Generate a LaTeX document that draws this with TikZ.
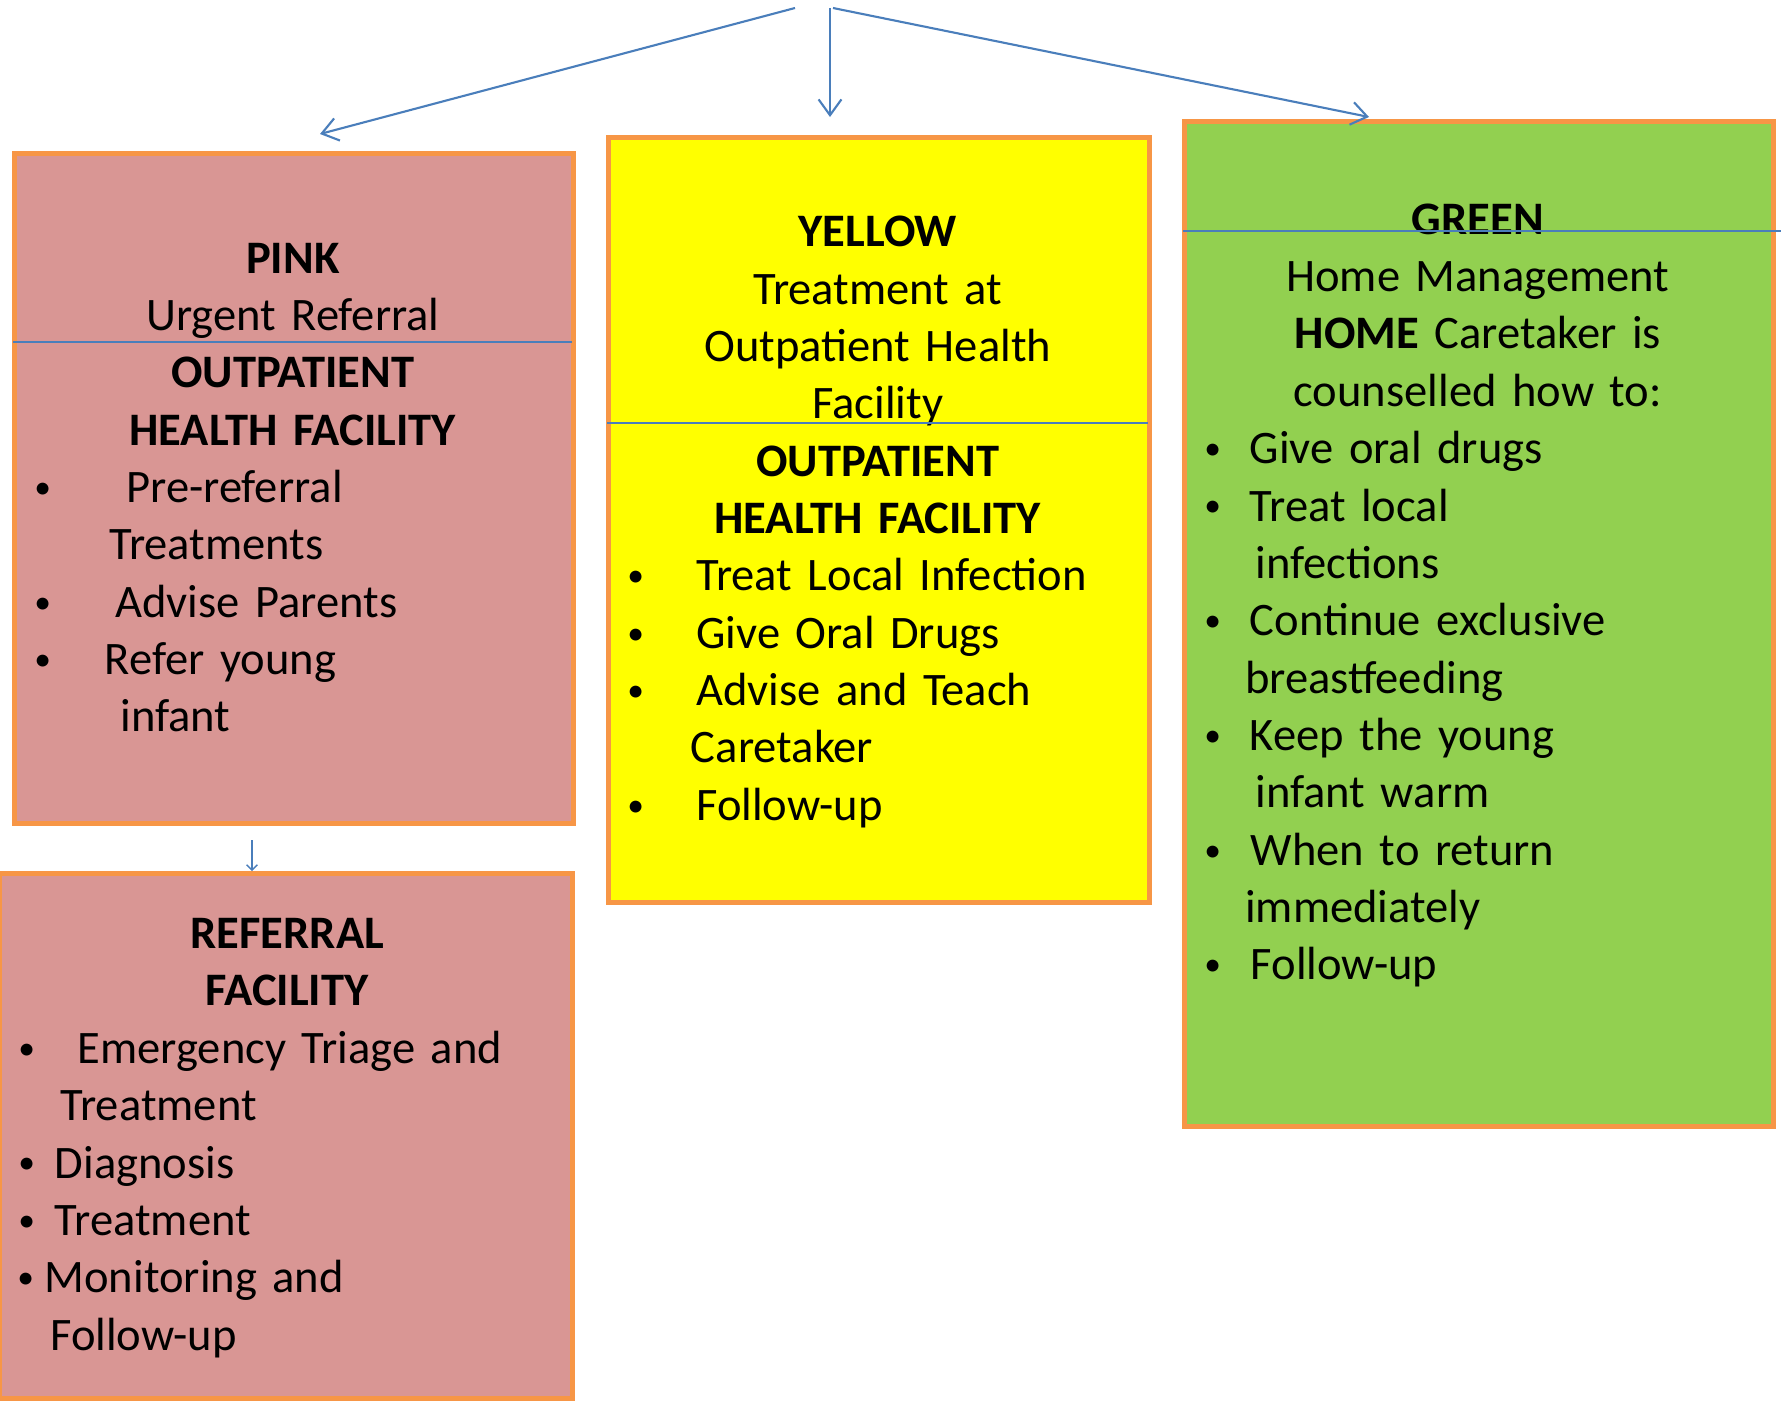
\documentclass[tikz,border=0pt]{standalone}
\usepackage{fontspec}
\usepackage{graphicx}
\setmainfont{Carlito}
\usetikzlibrary{arrows.meta, positioning}

\definecolor{boxorange}{HTML}{F79646}
\definecolor{pinkfill}{HTML}{D99694}
\definecolor{yellowfill}{HTML}{FFFF00}
\definecolor{greenfill}{HTML}{92D050}
\definecolor{lineblue}{HTML}{4A7EBB}

\newlength{\pxu}
\setlength{\pxu}{0.02cm}
\newcommand{\smallbullet}{\raisebox{0.09em}{\scalebox{0.72}{\textbullet}}}
\newcommand{\bitem}[3]{\makebox[\linewidth][l]{\hspace*{#1\pxu}\rlap{\smallbullet}\hspace*{-#1\pxu}\hspace*{#2\pxu}#3}}
\newcommand{\contline}[2]{\makebox[\linewidth][l]{\hspace*{#1\pxu}#2}}

\tikzset{
  box/.style={draw=boxorange, line width=2.8pt, anchor=north west, inner sep=0pt},
  boxtext/.style={anchor=base west, inner sep=0pt, align=center, font={\fontsize{26.5}{32.65}\selectfont}},
  sepline/.style={draw=lineblue, line width=1.2pt},
  flow/.style={draw=lineblue, line width=1.2pt, -{Straight Barb[length=9pt,width=13pt]}},
  smallflow/.style={draw=lineblue, line width=0.8pt, -{Straight Barb[length=3pt,width=6pt]}}
}

\begin{document}
\begin{tikzpicture}[x=0.02cm, y=-0.02cm]
  \useasboundingbox (0,0) rectangle (1781,1404);

  % Boxes
  \node[box, fill=pinkfill, minimum width=11.19cm, minimum height=13.41cm] (pink) at (12,151) {};
  \node[box, fill=pinkfill, minimum width=11.47cm, minimum height=10.51cm] (referral) at (-3,871) {};
  \node[box, fill=yellowfill, minimum width=10.83cm, minimum height=15.31cm] (yellow) at (606,135) {};
  \node[box, fill=greenfill, minimum width=11.79cm, minimum height=20.11cm] (green) at (1182,119) {};

  % Texts
  \node[boxtext, text width=11.26cm] (pinktxt) at (11,273) {\textbf{PINK}\\ Urgent Referral\\ \textbf{OUTPATIENT}\\ \textbf{HEALTH FACILITY}\\
    \bitem{23}{115}{Pre-referral}\\ \contline{98}{Treatments}\\ \bitem{23}{104}{Advise Parents}\\
    \bitem{23}{93.5}{Refer young}\\ \contline{109}{infant}};
  \node[boxtext, text width=10.9cm] (yellowtxt) at (605,246.7) {\textbf{YELLOW}\\ Treatment at\\ Outpatient Health\\ Facility\\
    \textbf{OUTPATIENT}\\ \textbf{HEALTH FACILITY}\\ \bitem{22}{91}{Treat Local Infection}\\ \bitem{22}{91}{Give Oral Drugs}\\
    \bitem{22}{91}{Advise and Teach}\\ \contline{85.6}{Caretaker}\\ \bitem{22}{91}{Follow-up}};
  \node[boxtext, text width=11.86cm] (greentxt) at (1181,234.2) {\textbf{GREEN}\\ Home Management\\ \textbf{HOME} Caretaker is\\ counselled how to:\\
    \bitem{23}{68.4}{Give oral drugs}\\ \bitem{23}{68.4}{Treat local}\\ \contline{74}{infections}\\
    \bitem{23}{68.4}{Continue exclusive}\\ \contline{63.8}{breastfeeding}\\ \bitem{23}{68.4}{Keep the young}\\
    \contline{74}{infant warm}\\ \bitem{23}{69.5}{When to return}\\ \contline{63.8}{immediately}\\ \bitem{23}{69.5}{Follow-up}};
  \node[boxtext, text width=11.48cm] (referraltxt) at (0,948.6) {\textbf{REFERRAL}\\ \textbf{FACILITY}\\
    \bitem{18}{77.2}{Emergency Triage and}\\ \contline{60.2}{Treatment}\\ \bitem{18}{54.5}{Diagnosis}\\
    \bitem{18}{54.5}{Treatment}\\ \bitem{17}{44.3}{Monitoring and}\\ \contline{50}{Follow-up}};

  % Separators
  \draw[sepline] (13,342) -- (572,342);
  \draw[sepline] (607,423) -- (1148,423);
  \draw[sepline] (1183,231) -- (1781,231);

  % Edges
  \coordinate (src) at (795,8);
  \coordinate (srcmid) at (830,8);
  \coordinate (srcright) at (833,8);
  \coordinate (pinkin) at (320,134);
  \coordinate (yellowin) at (830,117);
  \coordinate (greenin) at (1369,117);
  \coordinate (pinkout) at (252,840);
  \draw[flow] (src) -- (pinkin);
  \draw[flow] (srcmid) -- (yellowin);
  \draw[flow] (srcright) -- (greenin);
  \draw[smallflow] (pinkout) -- (pinkout |- referral.north);

\end{tikzpicture}
\end{document}
